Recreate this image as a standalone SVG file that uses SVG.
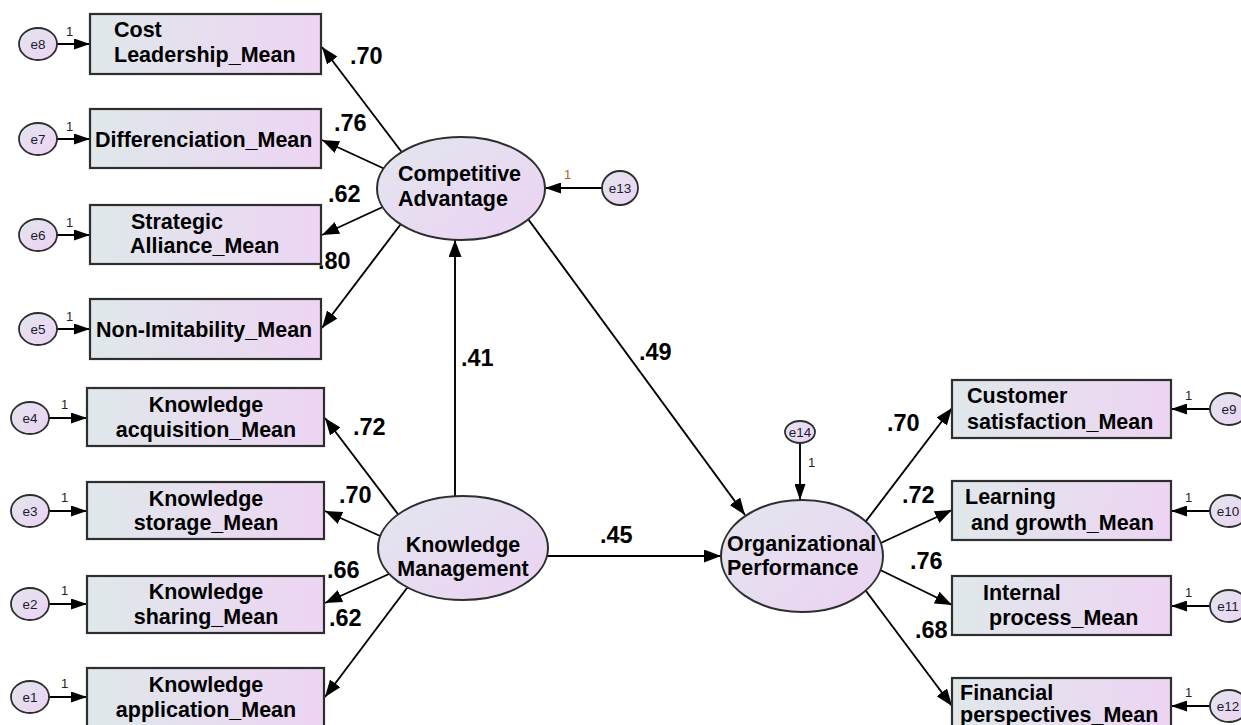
<svg xmlns="http://www.w3.org/2000/svg" width="1241" height="725" viewBox="0 0 1241 725">
<defs>
<linearGradient id="gBox" x1="0" y1="0" x2="1" y2="0">
<stop offset="0" stop-color="#dfe8ea"/>
<stop offset="1" stop-color="#edd4f3"/>
</linearGradient>
<linearGradient id="gEll" x1="0" y1="0" x2="1" y2="1">
<stop offset="0" stop-color="#e2e6ee"/>
<stop offset="1" stop-color="#ecd2f3"/>
</linearGradient>
<marker id="ah" markerUnits="userSpaceOnUse" markerWidth="17" markerHeight="13" refX="17" refY="6.5" orient="auto">
<path d="M0,0 L17,6.5 L0,13 z" fill="#000"/>
</marker>
<marker id="ahs" markerUnits="userSpaceOnUse" markerWidth="16" markerHeight="11" refX="16" refY="5.5" orient="auto">
<path d="M0,0 L16,5.5 L0,11 z" fill="#000"/>
</marker>
</defs>
<style>
.box{fill:url(#gBox);stroke:#2e2e2e;stroke-width:2.2}
.ell{fill:url(#gEll);stroke:#2e2e2e;stroke-width:2}
.err{fill:url(#gEll);stroke:#2e2e2e;stroke-width:1.8}
.t{font-family:"Liberation Sans",Arial,sans-serif;font-weight:bold;font-size:21.5px;fill:#000}
.tc{text-anchor:middle}
.et{font-family:"Liberation Sans",Arial,sans-serif;font-size:13.5px;fill:#1a1a2e;text-anchor:middle}
.one{font-family:"Liberation Sans",Arial,sans-serif;font-size:13px;fill:#222}
.num{font-family:"Liberation Sans",Arial,sans-serif;font-weight:bold;font-size:23.5px;fill:#000}
.c{stroke:#000;stroke-width:1.9;fill:none;marker-end:url(#ah)}
.cs{stroke:#000;stroke-width:1.9;fill:none;marker-end:url(#ahs)}
</style>

<g id="connectors">
<line class="c" x1="410" y1="163" x2="322" y2="47"/>
<line class="c" x1="400" y1="176" x2="322" y2="140"/>
<line class="c" x1="400" y1="199" x2="322" y2="235"/>
<line class="c" x1="410" y1="212" x2="322" y2="328"/>
<line class="c" x1="410" y1="530" x2="325" y2="418"/>
<line class="c" x1="400" y1="545" x2="325" y2="511"/>
<line class="c" x1="400" y1="569" x2="325" y2="603"/>
<line class="c" x1="410" y1="584" x2="325" y2="697"/>
<line class="c" x1="455" y1="520" x2="455" y2="240"/>
<line class="c" x1="520" y1="208" x2="745" y2="515"/>
<line class="c" x1="540" y1="556" x2="721" y2="556"/>
<line class="c" x1="860" y1="529" x2="952" y2="408"/>
<line class="c" x1="870" y1="548" x2="952" y2="510"/>
<line class="c" x1="870" y1="565" x2="952" y2="605"/>
<line class="c" x1="860" y1="583" x2="952" y2="706"/>
<line class="cs" x1="602" y1="188" x2="545" y2="188"/>
<line class="cs" x1="800" y1="443" x2="800" y2="500"/>
<line class="cs" x1="57" y1="44" x2="90" y2="44"/>
<line class="cs" x1="57" y1="139" x2="90" y2="139"/>
<line class="cs" x1="57" y1="235" x2="90" y2="235"/>
<line class="cs" x1="57" y1="329" x2="90" y2="329"/>
<line class="cs" x1="49" y1="418" x2="87" y2="418"/>
<line class="cs" x1="49" y1="511" x2="87" y2="511"/>
<line class="cs" x1="49" y1="604" x2="87" y2="604"/>
<line class="cs" x1="49" y1="697" x2="87" y2="697"/>
<line class="cs" x1="1210" y1="409" x2="1171" y2="409"/>
<line class="cs" x1="1210" y1="511" x2="1171" y2="511"/>
<line class="cs" x1="1210" y1="606" x2="1171" y2="606"/>
<line class="cs" x1="1210" y1="706" x2="1171" y2="706"/>
<text class="num" x="350" y="64">.70</text>
<text class="num" x="334" y="131">.76</text>
<text class="num" x="328" y="202">.62</text>
<text class="num" x="318" y="269">.80</text>
<text class="num" x="461" y="366">.41</text>
<text class="num" x="639" y="360">.49</text>
<text class="num" x="353" y="435">.72</text>
<text class="num" x="339" y="503">.70</text>
<text class="num" x="327" y="578">.66</text>
<text class="num" x="329" y="626">.62</text>
<text class="num" x="600" y="543">.45</text>
<text class="num" x="887" y="431">.70</text>
<text class="num" x="902" y="503">.72</text>
<text class="num" x="910" y="569">.76</text>
<text class="num" x="915" y="638">.68</text>
<text class="one" x="66" y="36">1</text>
<text class="one" x="66" y="131">1</text>
<text class="one" x="66" y="227">1</text>
<text class="one" x="66" y="321">1</text>
<text class="one" x="61" y="409">1</text>
<text class="one" x="61" y="502">1</text>
<text class="one" x="61" y="595">1</text>
<text class="one" x="61" y="688">1</text>
<text class="one" x="1185" y="400">1</text>
<text class="one" x="1185" y="502">1</text>
<text class="one" x="1185" y="597">1</text>
<text class="one" x="1185" y="697">1</text>
<text class="one" x="564" y="179" style="fill:#a06a10">1</text>
<text class="one" x="808" y="467">1</text>
</g>

<g id="cost_leadership"><rect class="box" x="90" y="14" width="231" height="60"/><text class="t" x="114" y="37">Cost</text><text class="t" x="114" y="62">Leadership_Mean</text></g>
<g id="differenciation"><rect class="box" x="90" y="109" width="231" height="59"/><text class="t" x="95" y="147">Differenciation_Mean</text></g>
<g id="strategic_alliance"><rect class="box" x="90" y="205" width="231" height="59"/><text class="t" x="131" y="229">Strategic</text><text class="t" x="130" y="253">Alliance_Mean</text></g>
<g id="non_imitability"><rect class="box" x="90" y="299" width="231" height="60"/><text class="t" x="96" y="337">Non-Imitability_Mean</text></g>

<g id="k_acquisition"><rect class="box" x="87" y="388" width="237" height="58"/><text class="t tc" x="206" y="412">Knowledge</text><text class="t tc" x="206" y="437">acquisition_Mean</text></g>
<g id="k_storage"><rect class="box" x="87" y="482" width="237" height="57"/><text class="t tc" x="206" y="506">Knowledge</text><text class="t tc" x="206" y="530">storage_Mean</text></g>
<g id="k_sharing"><rect class="box" x="87" y="576" width="237" height="57"/><text class="t tc" x="206" y="599">Knowledge</text><text class="t tc" x="206" y="624">sharing_Mean</text></g>
<g id="k_application"><rect class="box" x="87" y="668" width="237" height="60"/><text class="t tc" x="206" y="692">Knowledge</text><text class="t tc" x="206" y="717">application_Mean</text></g>

<g id="customer"><rect class="box" x="952" y="380" width="219" height="58"/><text class="t" x="967" y="403">Customer</text><text class="t" x="967" y="429">satisfaction_Mean</text></g>
<g id="learning"><rect class="box" x="952" y="481" width="219" height="59"/><text class="t" x="965" y="504">Learning</text><text class="t" x="971" y="530">and growth_Mean</text></g>
<g id="internal"><rect class="box" x="952" y="576" width="219" height="59"/><text class="t" x="983" y="600">Internal</text><text class="t" x="989" y="625">process_Mean</text></g>
<g id="financial"><rect class="box" x="952" y="678" width="219" height="52"/><text class="t" x="960" y="700">Financial</text><text class="t" x="960" y="722">perspectives_Mean</text></g>

<g id="competitive_advantage"><ellipse class="ell" cx="461" cy="188.5" rx="84" ry="51.5"/><text class="t" x="398" y="181">Competitive</text><text class="t" x="398" y="206">Advantage</text></g>
<g id="knowledge_management"><ellipse class="ell" cx="463" cy="548" rx="85" ry="52"/><text class="t tc" x="463" y="552">Knowledge</text><text class="t tc" x="463" y="576">Management</text></g>
<g id="organizational_performance"><ellipse class="ell" cx="802" cy="556" rx="81" ry="56"/><text class="t" x="727" y="551">Organizational</text><text class="t" x="727" y="575">Performance</text></g>

<g id="e8"><ellipse class="err" cx="38" cy="44" rx="19" ry="16"/><text class="et" x="38" y="49">e8</text></g>
<g id="e7"><ellipse class="err" cx="38" cy="139" rx="19" ry="16"/><text class="et" x="38" y="144">e7</text></g>
<g id="e6"><ellipse class="err" cx="38" cy="235" rx="19" ry="16"/><text class="et" x="38" y="240">e6</text></g>
<g id="e5"><ellipse class="err" cx="38" cy="329" rx="19" ry="16"/><text class="et" x="38" y="334">e5</text></g>
<g id="e4"><ellipse class="err" cx="30" cy="418" rx="19" ry="16"/><text class="et" x="30" y="423">e4</text></g>
<g id="e3"><ellipse class="err" cx="30" cy="511" rx="19" ry="16"/><text class="et" x="30" y="516">e3</text></g>
<g id="e2"><ellipse class="err" cx="30" cy="604" rx="19" ry="16"/><text class="et" x="30" y="609">e2</text></g>
<g id="e1"><ellipse class="err" cx="30" cy="697" rx="19" ry="16"/><text class="et" x="30" y="702">e1</text></g>
<g id="e9"><ellipse class="err" cx="1229" cy="409" rx="19" ry="16"/><text class="et" x="1229" y="414">e9</text></g>
<g id="e10"><ellipse class="err" cx="1229" cy="511" rx="19" ry="16"/><text class="et" x="1228" y="516">e10</text></g>
<g id="e11"><ellipse class="err" cx="1229" cy="606" rx="19" ry="16"/><text class="et" x="1228" y="611">e11</text></g>
<g id="e12"><ellipse class="err" cx="1229" cy="706" rx="19" ry="16"/><text class="et" x="1228" y="711">e12</text></g>
<g id="e13"><ellipse class="err" cx="620" cy="188" rx="18" ry="17"/><text class="et" x="620" y="193">e13</text></g>
<g id="e14"><ellipse class="err" cx="800" cy="432" rx="15" ry="11"/><text class="et" x="800" y="437">e14</text></g>
</svg>
